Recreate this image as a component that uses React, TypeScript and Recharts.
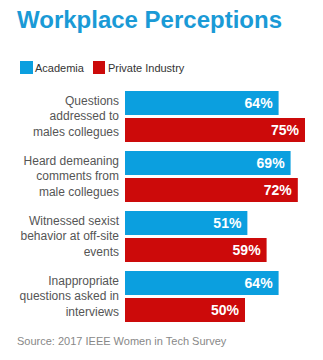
import { BarChart, Bar, XAxis, YAxis, LabelList } from "recharts";

const categories = [
  ["Questions", "addressed to", "males collegues"],
  ["Heard demeaning", "comments from", "male collegues"],
  ["Witnessed sexist", "behavior at off-site", "events"],
  ["Inappropriate", "questions asked in", "interviews"],
];
const academia = [64, 69, 51, 64];
const privateIndustry = [75, 72, 59, 50];

const data = categories.map((lines, i) => ({
  name: lines.join(" "),
  academia: academia[i],
  privateIndustry: privateIndustry[i],
}));

const BLUE = "#0b9fdf";
const RED = "#cc0a0a";
const FONT = "'Liberation Sans', Arial, Helvetica, sans-serif";

function CategoryTick(props: any) {
  const { x, y, payload } = props;
  const lines = categories[payload.index] ?? [payload.value];
  const lh = 15.5;
  return (
    <text
      x={x}
      y={y}
      textAnchor="end"
      fill="#555"
      fontSize={12}
      fontFamily={FONT}
    >
      {lines.map((line, i) => (
        <tspan key={i} x={x} y={y + (i - (lines.length - 1) / 2) * lh + 4}>
          {line}
        </tspan>
      ))}
    </text>
  );
}

const fmt = (v: any) => `${v}%`;

export default function App() {
  return (
    <div
      style={{
        position: "absolute",
        left: 0,
        top: 0,
        width: 323,
        height: 360,
        background: "#fff",
        fontFamily: FONT,
      }}
    >
      <div
        style={{
          position: "absolute",
          left: 17,
          top: 6,
          fontSize: 24,
          fontWeight: 700,
          color: "#1a9ad6",
          whiteSpace: "nowrap",
        }}
      >
        Workplace Perceptions
      </div>
      <div
        style={{
          position: "absolute",
          left: 20,
          top: 61,
          display: "flex",
          alignItems: "center",
          fontSize: 11,
          color: "#333",
        }}
      >
        <span style={{ width: 13, height: 13, background: BLUE, marginRight: 2 }} />
        <span style={{ marginRight: 9 }}>Academia</span>
        <span style={{ width: 12, height: 13, background: RED, marginRight: 3 }} />
        <span>Private Industry</span>
      </div>
      <BarChart
        width={323}
        height={360}
        data={data}
        layout="vertical"
        margin={{ top: 86, right: 18, bottom: 34, left: 0 }}
        barSize={24}
        barGap={3}
      >
        <XAxis type="number" domain={[0, 75]} hide />
        <YAxis
          type="category"
          dataKey="name"
          width={125}
          axisLine={false}
          tickLine={false}
          tickSize={0}
          tickMargin={6}
          tick={<CategoryTick />}
          interval={0}
        />
        <Bar dataKey="academia" fill={BLUE} isAnimationActive={false}>
          <LabelList
            dataKey="academia"
            position="insideRight"
            offset={6}
            formatter={fmt}
            fill="#fff"
            fontSize={14}
            fontWeight={700}
            fontFamily={FONT}
          />
        </Bar>
        <Bar dataKey="privateIndustry" fill={RED} isAnimationActive={false}>
          <LabelList
            dataKey="privateIndustry"
            position="insideRight"
            offset={6}
            formatter={fmt}
            fill="#fff"
            fontSize={14}
            fontWeight={700}
            fontFamily={FONT}
          />
        </Bar>
      </BarChart>
      <div
        style={{
          position: "absolute",
          left: 17,
          top: 335,
          fontSize: 11,
          color: "#888",
          whiteSpace: "nowrap",
        }}
      >
        Source: 2017 IEEE Women in Tech Survey
      </div>
    </div>
  );
}
